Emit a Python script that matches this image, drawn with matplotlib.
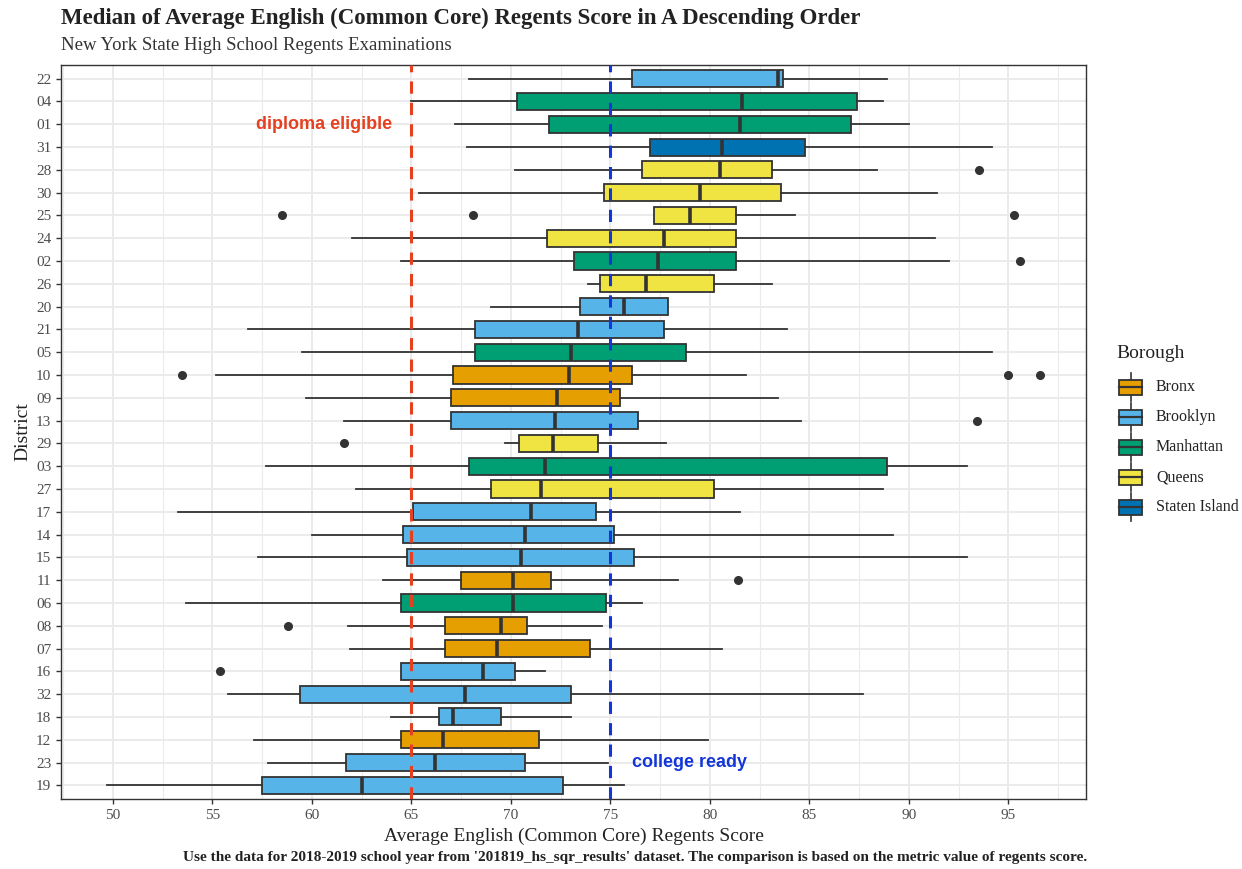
import numpy as np
import matplotlib
matplotlib.use("Agg")
import matplotlib.pyplot as plt
from matplotlib.patches import Rectangle

# districts ordered by median, top to bottom
districts = ['22', '04', '01', '31', '28', '30', '25', '24', '02', '26', '20',
             '21', '05', '10', '09', '13', '29', '03', '27', '17', '14', '15',
             '11', '06', '08', '07', '16', '32', '18', '12', '23', '19']
boroughs = ['Brooklyn', 'Manhattan', 'Manhattan', 'Staten Island', 'Queens',
            'Queens', 'Queens', 'Queens', 'Manhattan', 'Queens', 'Brooklyn',
            'Brooklyn', 'Manhattan', 'Bronx', 'Bronx', 'Brooklyn', 'Queens',
            'Manhattan', 'Queens', 'Brooklyn', 'Brooklyn', 'Brooklyn', 'Bronx',
            'Manhattan', 'Bronx', 'Bronx', 'Brooklyn', 'Brooklyn', 'Brooklyn',
            'Bronx', 'Brooklyn', 'Brooklyn']
whisker_lo = [67.9, 65.0, 67.2, 67.8, 70.2, 65.4, 77.2, 62.0, 64.5, 73.9, 69.0,
              56.8, 59.5, 55.2, 59.7, 61.6, 69.7, 57.7, 62.2, 53.3, 60.0, 57.3,
              63.6, 53.7, 61.8, 61.9, 64.5, 55.8, 64.0, 57.1, 57.8, 49.7]
q1 = [76.1, 70.3, 71.9, 77.0, 76.6, 74.7, 77.2, 71.8, 73.2, 74.5, 73.5,
      68.2, 68.2, 67.1, 67.0, 67.0, 70.4, 67.9, 69.0, 65.1, 64.6, 64.8,
      67.5, 64.5, 66.7, 66.7, 64.5, 59.4, 66.4, 64.5, 61.7, 57.5]
median = [83.4, 81.6, 81.5, 80.6, 80.5, 79.5, 79.0, 77.7, 77.4, 76.8, 75.7,
          73.4, 73.0, 72.9, 72.3, 72.2, 72.1, 71.7, 71.5, 71.0, 70.7, 70.5,
          70.1, 70.1, 69.5, 69.3, 68.6, 67.7, 67.1, 66.6, 66.2, 62.5]
q3 = [83.7, 87.4, 87.1, 84.8, 83.1, 83.6, 81.3, 81.3, 81.3, 80.2, 77.9,
      77.7, 78.8, 76.1, 75.5, 76.4, 74.4, 88.9, 80.2, 74.3, 75.2, 76.2,
      72.0, 74.8, 70.8, 74.0, 70.2, 73.0, 69.5, 71.4, 70.7, 72.6]
whisker_hi = [88.9, 88.7, 90.0, 94.2, 88.4, 91.4, 84.3, 91.3, 92.0, 83.1, 77.9,
              83.9, 94.2, 81.8, 83.4, 84.6, 77.8, 92.9, 88.7, 81.5, 89.2, 92.9,
              78.4, 76.6, 74.6, 80.6, 71.7, 87.7, 73.0, 79.9, 74.9, 75.7]
outliers = [[], [], [], [], [93.5], [], [58.5, 68.1, 95.3], [], [95.6], [], [],
            [], [], [53.5, 95.0, 96.6], [], [93.4], [61.6], [], [], [], [], [],
            [81.4], [], [58.8], [], [55.4], [], [], [], [], []]

borough_names = ['Bronx', 'Brooklyn', 'Manhattan', 'Queens', 'Staten Island']
borough_colors = ['#E69F00', '#56B4E9', '#009E73', '#F0E442', '#0072B2']
color_of = dict(zip(borough_names, borough_colors))

plt.rcParams['font.family'] = ['Liberation Serif', 'DejaVu Serif']

fig = plt.figure(figsize=(12.42, 8.69), dpi=100)
W, H = 1242, 869
ax = fig.add_axes([61 / W, 1 - 799 / H, (1086 - 61) / W, (799 - 65) / H])

n = len(districts)
pos = np.arange(n, 0, -1)
stats = []
for i in range(n):
    stats.append(dict(med=median[i], q1=q1[i], q3=q3[i], whislo=whisker_lo[i],
                      whishi=whisker_hi[i], fliers=outliers[i]))

edge = '#333333'
bp = ax.bxp(stats, positions=pos, widths=0.75, orientation='horizontal',
            patch_artist=True, showcaps=False,
            boxprops=dict(edgecolor=edge, linewidth=1.3),
            whiskerprops=dict(color=edge, linewidth=1.3),
            medianprops=dict(color=edge, linewidth=2.6),
            flierprops=dict(marker='o', markerfacecolor=edge, markeredgecolor=edge,
                            markersize=5.5))
for patch, b in zip(bp['boxes'], boroughs):
    patch.set_facecolor(color_of[b])
for art in bp['boxes'] + bp['whiskers'] + bp['medians'] + bp['fliers']:
    art.set_zorder(3)

# reference lines
red = '#E5401F'
blue = '#1336D8'
ax.axvline(65, color=red, lw=2.2, linestyle=(0, (4, 3)), zorder=5)
ax.axvline(75, color=blue, lw=2.2, linestyle=(0, (4, 3)), zorder=5)
ax.text(60.6, pos[districts.index('01')], 'diploma eligible', color=red,
        family='Liberation Sans', fontweight='bold', fontsize=13,
        ha='center', va='center', zorder=6)
ax.text(79.0, pos[districts.index('23')], 'college ready', color=blue,
        family='Liberation Sans', fontweight='bold', fontsize=13,
        ha='center', va='center', zorder=6)

ax.set_xlim(47.4, 98.9)
ax.set_ylim(0.4, n + 0.6)
ax.set_xticks(np.arange(50, 100, 5))
ax.set_xticks(np.arange(47.5, 99, 2.5), minor=True)
ax.set_yticks(pos)
ax.set_yticklabels(districts)
ax.grid(True, which='major', color='#EBEBEB', linewidth=1.4, zorder=0)
ax.grid(True, which='minor', axis='x', color='#EBEBEB', linewidth=0.8, zorder=0)
ax.set_axisbelow(True)
ax.tick_params(axis='both', which='major', colors='#333333', labelcolor='#4D4D4D',
               length=3.5, width=1.0, labelsize=11)
ax.tick_params(axis='x', which='minor', length=0)
for sp in ax.spines.values():
    sp.set_color('#333333')
    sp.set_linewidth(1.0)

ax.set_xlabel('Average English (Common Core) Regents Score', fontsize=14,
              color='#222222', labelpad=4)
ax.set_ylabel('District', fontsize=14, color='#222222', labelpad=3)

fig.text(61 / W, 1 - 18 / H, 'Median of Average English (Common Core) Regents Score in A Descending Order',
         fontsize=16.5, fontweight='bold', color='#222222', ha='left', va='center')
fig.text(61 / W, 1 - 45 / H, 'New York State High School Regents Examinations',
         fontsize=13.5, color='#333333', ha='left', va='center')
fig.text(1087 / W, 1 - 858 / H,
         "Use the data for 2018-2019 school year from '201819_hs_sqr_results' dataset. "
         "The comparison is based on the metric value of regents score.",
         fontsize=11, fontweight='bold', color='#222222', ha='right', va='center')

# legend drawn by hand in pixel units
lax = fig.add_axes([1100 / W, 1 - 530 / H, 142 / W, 200 / H])
lax.set_xlim(1100, 1242)
lax.set_ylim(530, 330)
lax.axis('off')
lax.text(1116, 353, 'Borough', fontsize=14, color='#222222', ha='left', va='center')
for i, (name, col) in enumerate(zip(borough_names, borough_colors)):
    yc = 387 + i * 30
    lax.plot([1131, 1131], [yc - 14, yc + 14], color=edge, lw=1.2)
    lax.add_patch(Rectangle((1119, yc - 7.5), 23, 15, facecolor=col,
                            edgecolor=edge, lw=1.3, zorder=3))
    lax.plot([1119, 1142], [yc, yc], color=edge, lw=1.6, zorder=4)
    lax.text(1156, yc, name, fontsize=11.5, color='#222222', ha='left', va='center')

fig.savefig('out.png', dpi=100)
